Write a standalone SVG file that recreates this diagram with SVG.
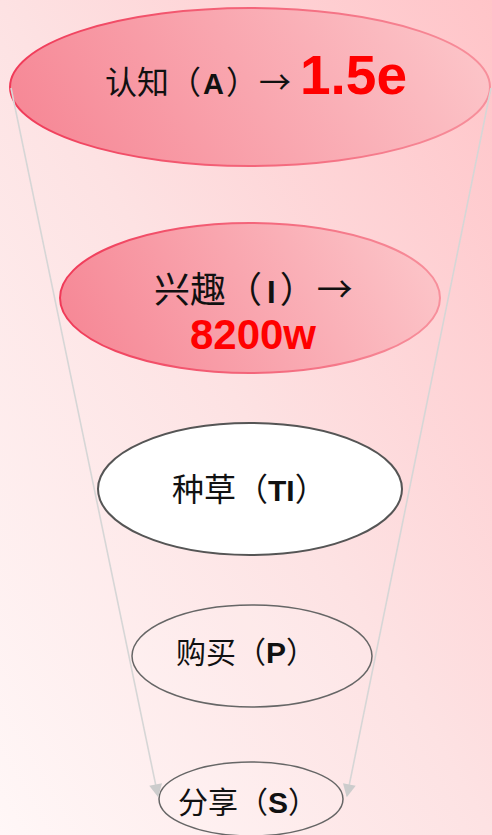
<svg xmlns="http://www.w3.org/2000/svg" width="492" height="835" viewBox="0 0 492 835">
<defs>
<linearGradient id="bg" x1="0" y1="1" x2="1" y2="0">
<stop offset="0" stop-color="#fff7f7"/>
<stop offset="0.5" stop-color="#fde2e3"/>
<stop offset="1" stop-color="#ffc4c8"/>
</linearGradient>
<linearGradient id="pinkFill" x1="0" y1="0.6" x2="1" y2="0.4">
<stop offset="0" stop-color="#f68896"/>
<stop offset="1" stop-color="#fcc4c8"/>
</linearGradient>
<linearGradient id="pinkStroke" x1="0" y1="0" x2="1" y2="0">
<stop offset="0" stop-color="#f03a58"/>
<stop offset="1" stop-color="#f7909c"/>
</linearGradient>
<marker id="arr" viewBox="0 0 10 10" refX="9" refY="5" markerWidth="14" markerHeight="13" markerUnits="userSpaceOnUse" orient="auto">
<path d="M0,0 L10,5 L0,10 z" fill="#cccccc"/>
</marker>
<style>
.cjk{font-family:"Noto Sans CJK SC","Liberation Sans",sans-serif;fill:#111;}
.lat{font-family:"Liberation Sans","Noto Sans CJK SC",sans-serif;font-weight:bold;}
.red{font-family:"Liberation Sans",sans-serif;font-weight:bold;fill:#ff0000;}
.pink{fill:url(#pinkFill);stroke:url(#pinkStroke);stroke-width:2;}
.conn{stroke:#d6d6d6;stroke-width:1.6;fill:none;}
</style>
</defs>
<rect x="0" y="0" width="492" height="835" fill="url(#bg)"/>

<g id="node-A">
<ellipse cx="250" cy="87" rx="240" ry="79" class="pink"/>
<text x="105" y="94" class="cjk" font-size="32">认知（<tspan class="lat" font-size="29" dx="2">A</tspan><tspan dx="2">）</tspan><tspan dx="1">→</tspan><tspan class="red" font-size="55" dx="9">1.5e</tspan></text>
</g>

<g id="node-I">
<ellipse cx="250" cy="298" rx="190" ry="75" class="pink"/>
<text x="154" y="303" class="cjk" font-size="36">兴趣（<tspan class="lat" font-size="31" dx="5">I</tspan><tspan dx="4">）</tspan><tspan dx="1">→</tspan></text>
<text x="253" y="349" class="red" font-size="42" text-anchor="middle">8200w</text>
</g>

<g id="node-TI">
<ellipse cx="250" cy="489" rx="152" ry="66" fill="#ffffff" stroke="#555555" stroke-width="2"/>
<text x="172" y="501" class="cjk" font-size="32">种草（<tspan class="lat" font-size="30">TI</tspan>）</text>
</g>

<g id="node-P">
<ellipse cx="252" cy="656" rx="120" ry="51" fill="#ffffff" fill-opacity="0.12" stroke="#666666" stroke-width="1.5"/>
<text x="176" y="663" class="cjk" font-size="30">购买（<tspan class="lat" font-size="30">P</tspan>）</text>
</g>

<g id="node-S">
<ellipse cx="251" cy="799" rx="92" ry="37" fill="#ffffff" fill-opacity="0.12" stroke="#666666" stroke-width="1.5"/>
<text x="178" y="813" class="cjk" font-size="30">分享（<tspan class="lat" font-size="30">S</tspan>）</text>
</g>

<g id="connectors">
<line x1="11" y1="88" x2="158" y2="796" class="conn" marker-end="url(#arr)"/>
<line x1="491" y1="88" x2="347" y2="796" class="conn" marker-end="url(#arr)"/>
</g>
</svg>
